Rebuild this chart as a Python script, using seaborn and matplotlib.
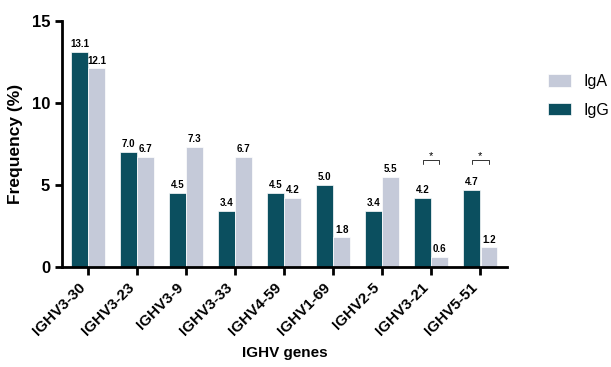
import pandas as pd
import numpy as np
import matplotlib
matplotlib.use("Agg")
import matplotlib.pyplot as plt
import seaborn as sns

# Data
genes = ['IGHV3-30', 'IGHV3-23', 'IGHV3-9', 'IGHV3-33', 'IGHV4-59',
         'IGHV1-69', 'IGHV2-5', 'IGHV3-21', 'IGHV5-51']
igg = [13.1, 7.0, 4.5, 3.4, 4.5, 5.0, 3.4, 4.2, 4.7]
iga = [12.1, 6.7, 7.3, 6.7, 4.2, 1.8, 5.5, 0.6, 1.2]
signif_genes = ['IGHV3-21', 'IGHV5-51']

df = pd.DataFrame({
    'gene': genes * 2,
    'freq': igg + iga,
    'isotype': ['IgG'] * len(genes) + ['IgA'] * len(genes),
})

sns.set_style("ticks")
plt.rcParams['font.family'] = ['Liberation Sans', 'DejaVu Sans']
plt.rcParams['text.color'] = 'black'
plt.rcParams['axes.labelcolor'] = 'black'
plt.rcParams['xtick.color'] = 'black'
plt.rcParams['ytick.color'] = 'black'
plt.rcParams['axes.edgecolor'] = 'black'

fig = plt.figure(figsize=(6.11, 3.67), dpi=100)
ax = fig.add_axes([0.1015, 0.2725, 0.7285, 0.6705])

palette = {'IgG': '#0b4f5f', 'IgA': '#c5cad9'}
sns.barplot(data=df, x='gene', y='freq', hue='isotype', hue_order=['IgG', 'IgA'],
            order=genes, palette=palette, width=0.7, gap=0.04, ax=ax,
            edgecolor='white', linewidth=0.5, saturation=1)

for cont in ax.containers:
    ax.bar_label(cont, fmt='%.1f', fontsize=7, fontweight='bold', padding=2)

# significance brackets
for g in signif_genes:
    i = genes.index(g)
    x0, x1 = i - 0.17, i + 0.17
    y = 6.5
    ax.plot([x0, x0, x1, x1], [y - 0.25, y, y, y - 0.25], color='#333333', lw=0.7)
    ax.text(i, y - 0.05, '*', ha='center', va='bottom', fontsize=8)

ax.set_xlim(-0.53, 8.55)
ax.set_ylim(0, 15)
ax.set_yticks([0, 5, 10, 15])
ax.set_xticks(range(len(genes)))
ax.set_xticklabels(genes, rotation=45, ha='right', fontsize=11, fontweight='bold')
for lab in ax.get_yticklabels():
    lab.set_fontweight('bold')
    lab.set_fontsize(12)

sns.despine(ax=ax)
for s in ['left', 'bottom']:
    ax.spines[s].set_linewidth(2)
ax.tick_params(axis='both', width=2, length=5, color='black')
ax.tick_params(axis='x', length=6)

ax.set_xlabel('IGHV genes', fontsize=11, fontweight='bold', labelpad=6)
ax.set_ylabel('Frequency (%)', fontsize=12.5, fontweight='bold', labelpad=6)

handles, labels = ax.get_legend_handles_labels()
order = [labels.index('IgA'), labels.index('IgG')]
ax.legend([handles[k] for k in order], [labels[k] for k in order],
          loc='upper left', bbox_to_anchor=(1.078, 0.81), frameon=False,
          fontsize=11.5, handlelength=1.4, handleheight=0.8, labelspacing=0.85,
          handletextpad=0.8, borderaxespad=0)

fig.savefig('out.png', dpi=100)
